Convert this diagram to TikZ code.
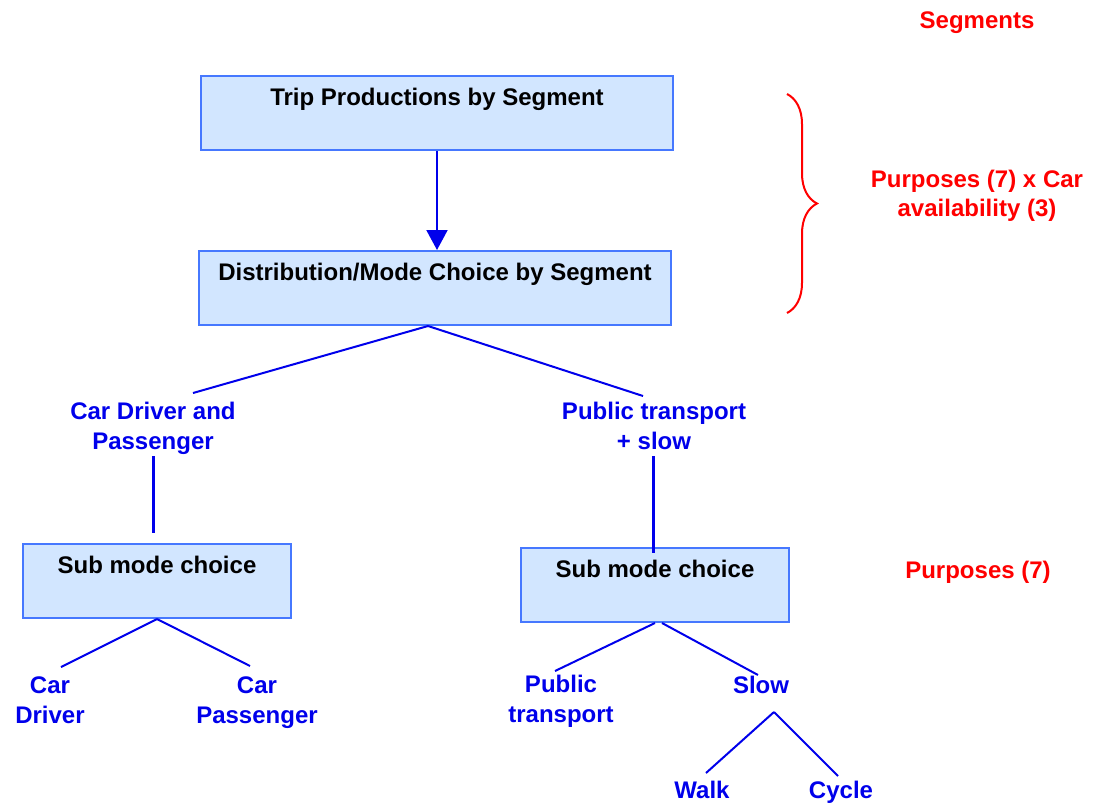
\documentclass[tikz,border=0pt]{standalone}
\usepackage{fontspec}
\setmainfont{Liberation Sans}
\usetikzlibrary{arrows.meta,decorations.pathreplacing}

\definecolor{boxfill}{RGB}{210,230,255}
\definecolor{boxline}{RGB}{70,120,255}
\definecolor{treeblue}{RGB}{0,0,235}
\definecolor{notered}{RGB}{255,0,0}

\tikzset{
  box/.style={draw=boxline, fill=boxfill, line width=2pt, inner sep=0pt,
    text height=29pt, text depth=45pt, font=\fontsize{24}{30}\selectfont\bfseries},
  branch/.style={text=treeblue, align=center, anchor=base,
    font=\fontsize{24}{30}\selectfont\bfseries},
  note/.style={text=notered, align=center, anchor=base,
    font=\fontsize{24}{29}\selectfont\bfseries},
  link/.style={draw=treeblue, line width=2pt},
  stem/.style={draw=treeblue, line width=3pt}
}

\begin{document}
\begin{tikzpicture}[x=1pt,y=-1pt]
\useasboundingbox (0,0) rectangle (1106,809);

\node[box, minimum width=472pt, anchor=north] (trip) at (437,75) {Trip Productions by Segment};
\node[box, minimum width=472pt, anchor=north] (dist) at (435,250) {Distribution/Mode Choice by Segment};
\node[box, minimum width=268pt, anchor=north] (subL) at (157,543) {Sub mode choice};
\node[box, minimum width=268pt, anchor=north] (subR) at (655,547) {Sub mode choice};

% base of a two-line label sits on its last line
\node[branch] (cdp) at (153,449) {Car Driver and\\Passenger};
\node[branch] (pts) at (654,449) {Public transport\\+ slow};
\node[branch] (cdriver) at (50,723) {Car\\Driver};
\node[branch] (cpass) at (257,723) {Car\\Passenger};
\node[branch] (ptrans) at (561,722) {Public\\transport};
\node[branch] (slow) at (761,693) {Slow};
\node[branch] (walk) at (702,798) {Walk};
\node[branch] (cycle) at (841,798) {Cycle};

\node[note] (seg) at (977,28) {Segments};
\node[note] (purpcar) at (977,216) {Purposes (7) x Car\\availability (3)};
\node[note] (purp) at (978,578) {Purposes (7)};

\coordinate (cdp-in) at (193,393);
\coordinate (pts-in) at (643,396);
\coordinate (cdp-out) at (153,456);
\coordinate (cdp-end) at (153,533);
\coordinate (pts-out) at (653,456);
\coordinate (pts-end) at (653,553);
\coordinate (cdriver-in) at (61,667);
\coordinate (cpass-in) at (250,666);
\coordinate (ptrans-in) at (555,671);
\coordinate (slow-in) at (758,675);
\coordinate (slow-out) at (774,712);
\coordinate (walk-in) at (706,773);
\coordinate (cycle-in) at (838,776);
\coordinate (br-top) at (787,94);
\coordinate (br-bot) at (787,313);

\draw[link, -{Triangle[width=21pt,length=20pt]}, fill=treeblue] (trip.south) -- (trip.south |- dist.north);

\draw[link] ([xshift=-7pt]dist.south) -- (cdp-in);
\draw[link] ([xshift=-7pt]dist.south) -- (pts-in);
\draw[stem] (cdp-out) -- (cdp-end);
\draw[stem] (pts-out) -- (pts-end);

\draw[link] (subL.south) -- (cdriver-in);
\draw[link] (subL.south) -- (cpass-in);
\draw[link] (subR.south) -- (ptrans-in);
\draw[link] ([xshift=7pt]subR.south) -- (slow-in);
\draw[link] (slow-out) -- (walk-in);
\draw[link] (slow-out) -- (cycle-in);

\draw[notered, line width=2pt, decorate, decoration={brace, amplitude=30pt}] (br-top) -- (br-bot);
\end{tikzpicture}
\end{document}
